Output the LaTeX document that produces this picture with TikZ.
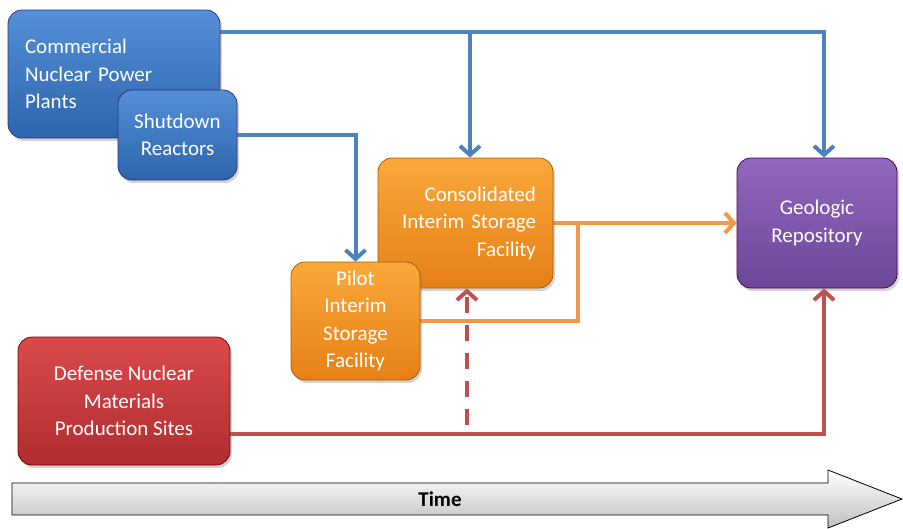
\documentclass[tikz,border=0pt]{standalone}
\usepackage{fontspec}
\setmainfont{Carlito}
\usetikzlibrary{arrows.meta,shadows,backgrounds}

\definecolor{lineblue}{HTML}{4F81BD}
\definecolor{lineorange}{HTML}{F79646}
\definecolor{linered}{HTML}{C0504D}

\tikzset{
  box/.style={draw, rounded corners=14pt, line width=0.8pt, text=white,
    font=\fontsize{21}{27.5}\selectfont, inner sep=0pt,
    drop shadow={opacity=0.35, shadow xshift=2pt, shadow yshift=-3pt}},
  bluebox/.style={box, draw=blue!40!black!80, top color={rgb,255:red,84;green,143;blue,215}, bottom color={rgb,255:red,44;green,101;blue,172}},
  orangebox/.style={box, draw=orange!70!black, top color={rgb,255:red,250;green,168;blue,58}, bottom color={rgb,255:red,230;green,128;blue,22}},
  purplebox/.style={box, draw=violet!60!black, top color={rgb,255:red,146;green,103;blue,190}, bottom color={rgb,255:red,108;green,70;blue,152}},
  redbox/.style={box, draw=red!50!black, top color={rgb,255:red,218;green,74;blue,76}, bottom color={rgb,255:red,176;green,44;blue,47}},
  flow/.style={line width=4pt, -{Straight Barb[length=9pt,width=20pt]}},
}

\begin{document}
\begin{tikzpicture}[x=1pt,y=-1pt]
  \useasboundingbox (0,0) rectangle (903,528);

  % boxes
  \node[bluebox, minimum width=212, minimum height=128, text width=178, align=left] (comm) at (114,74)
    {Commercial\\Nuclear Power\\Plants};
  \node[bluebox, minimum width=119, minimum height=90, align=center] (shut) at (177.5,135)
    {Shutdown\\Reactors};
  \node[orangebox, minimum width=175, minimum height=130, text width=141, align=right] (cons) at (465.5,223)
    {Consolidated\\Interim Storage\\Facility};
  \node[orangebox, minimum width=129, minimum height=118, align=center] (pilot) at (355.5,321)
    {Pilot\\Interim\\Storage\\Facility};
  \node[purplebox, minimum width=160, minimum height=130, align=center] (geo) at (817,223)
    {Geologic\\Repository};
  \node[redbox, minimum width=212, minimum height=128, align=center] (def) at (124,401)
    {Defense Nuclear\\Materials\\Production Sites};

  \coordinate (split) at (578,223);   % where the pilot line joins

  % connectors go under the boxes
  \begin{scope}[on background layer]
  % blue lines
  \draw[flow, lineblue] (comm.east |- 0,32) -- (824,32) -- (824,0 |- geo.north);
  \draw[flow, lineblue] (470,32) -- (470,0 |- cons.north);
  \draw[flow, lineblue] (shut.east) -- (shut.east -| pilot.north) -- (pilot.north);

  % orange lines
  \draw[flow, lineorange] (cons.east) -- (geo.west);
  \draw[line width=4pt, lineorange] (pilot.east) -- (pilot.east -| split) -- (split);

  % red lines
  \draw[flow, linered] (def.east |- 0,434) -- (824,434) -- (824,0 |- geo.south);
  \draw[flow, linered, dash pattern=on 16pt off 12pt] (467,425) -- (467,0 |- cons.south);
  \end{scope}

  % time arrow
  \draw[line width=0.8pt, top color=white, bottom color=black!25]
    (12,483) -- (828,483) -- (828,470) -- (902,499) -- (828,528) -- (828,515) -- (12,515) -- cycle;
  \node[font=\fontsize{21}{24}\selectfont\bfseries] (time) at (440,499) {Time};
\end{tikzpicture}
\end{document}
